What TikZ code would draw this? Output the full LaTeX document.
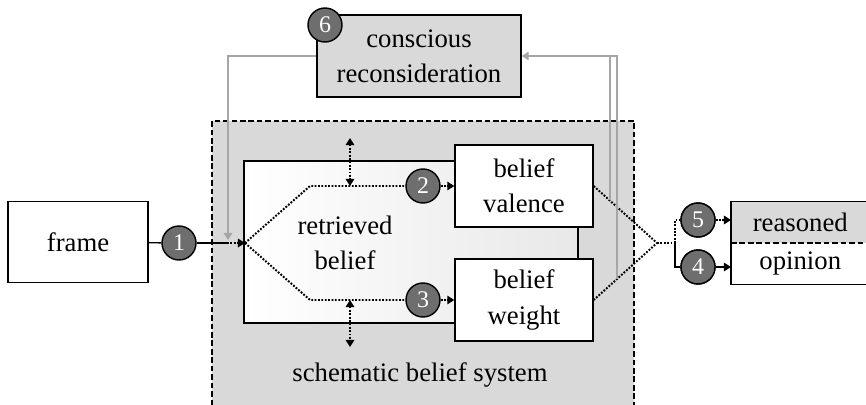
\documentclass[tikz,border=0pt]{standalone}
\usepackage{fontspec}
\setmainfont{Liberation Serif}
\usetikzlibrary{arrows.meta,positioning,calc}
\definecolor{panel}{RGB}{217,217,217}
\definecolor{badge}{RGB}{110,110,110}
\definecolor{loopgray}{RGB}{166,166,166}

\begin{document}
\begin{tikzpicture}[every node/.style={font=\fontsize{19}{25}\selectfont},
  box/.style={draw, line width=1pt, fill=white, align=center, minimum width=3.45cm, minimum height=2.05cm},
  num/.style={circle, draw, line width=1pt, fill=badge, text=white, minimum size=0.85cm, inner sep=0pt, font=\fontsize{17}{17}\selectfont},
  dotline/.style={line width=1.4pt, dash pattern=on 1.3pt off 1.1pt},
  tip/.style={-{Triangle[length=5pt,width=6pt]}},
  fback/.style={draw=loopgray, line width=1.4pt}]
\useasboundingbox (0,0) rectangle (21.65,10.1);
\clip (0,0) rectangle (21.65,10.1);

% belief system panel
\node[draw, line width=1pt, dash pattern=on 4pt off 2pt, fill=panel, minimum width=10.55cm, minimum height=7.575cm] (sbs) at (10.575,3.2875) {};
\node (sbslabel) at (10.5,0.725) {schematic belief system};

% feedback loop
\node[box, fill=panel, minimum width=5.1cm] (cr) at (10.475,8.7) {conscious\\reconsideration};
\coordinate (fbin) at (5.7,4.1);
\draw[fback, tip] (cr.west) -| (fbin);

% retrieval
\node[draw, line width=1pt, minimum width=8.35cm, minimum height=4.05cm, left color=white, right color=black!9] (pool) at (10.275,4.05) {};
\node[align=center] (rtext) at (8.625,4.025) {retrieved\\belief};
\node[box] (vb) at (13.1,5.45) {belief\\valence};
\node[box] (wb) at (13.1,2.6) {belief\\weight};

\node[box, minimum width=3.5cm, minimum height=2.025cm] (fr) at (1.95,4.05) {frame};

\coordinate (S) at (6.125,4.025);
\coordinate (j1) at (5.675,4.025);
\coordinate (ut) at (7.75,5.45);
\coordinate (lt) at (7.75,2.6);
\coordinate (up1) at (8.75,6.65);
\coordinate (dn1) at (8.75,1.425);
\coordinate (M) at (16.425,4.025);
\coordinate (B) at (16.875,4.025);

\node[num] (c1) at (4.475,4.025) {1};
\node[num] (c2) at (10.575,5.45) {2};
\node[num] (c3) at (10.575,2.6) {3};
\node[num] (c4) at (17.45,3.425) {4};
\node[num] (c5) at (17.45,4.6) {5};

\draw[line width=1pt] (fr) -- (c1);
\draw[line width=1pt] (c1) -- (j1);
\draw[dotline, tip] (j1) -- (S);
\draw[dotline] (S) -- (ut) -- (c2);
\draw[dotline] (S) -- (lt) -- (c3);
\draw[dotline, tip] (c2) -- (c2 -| vb.west);
\draw[dotline, tip] (c3) -- (c3 -| wb.west);
\draw[dotline, {Triangle[length=5pt,width=6pt]}-{Triangle[length=5pt,width=6pt]}] (up1) -- (up1 |- ut);
\draw[dotline, {Triangle[length=5pt,width=6pt]}-{Triangle[length=5pt,width=6pt]}] (up1 |- lt) -- (dn1);

% outcome
\node[fill=panel, inner sep=2pt, minimum width=3.45cm, minimum height=1.025cm, anchor=south west] (rs) at (18.275,4.025) {reasoned};
\node[fill=white, inner sep=2pt, minimum width=3.45cm, minimum height=1.025cm, anchor=north west] (op) at (18.275,4.025) {opinion};
\draw[line width=1pt] (rs.north east) -- (rs.north west) -- (op.south west) -- (op.south east);
\draw[line width=1pt, dash pattern=on 4pt off 2pt] (rs.south west) -- (rs.south east);

\draw[dotline] (vb.east) -- (M) -- (wb.east);
\draw[dotline] (M) -- (B);
\draw[dotline] (B) |- (c5);
\draw[dotline, tip] (c5) -- (c5 -| rs.west);
\draw[line width=1pt] (B) |- (c4);
\draw[line width=1pt, tip] (c4) -- (c4 -| op.west);
\node[num] at (c4) {4};
\node[num] at (c5) {5};

\coordinate (pv) at ($(vb.east)!0.25!(M)$);
\coordinate (pw) at ($(wb.east)!0.375!(M)$);
\draw[fback] (pv) -- (pv |- cr.east);
\draw[fback, tip] (pw) |- (cr.east);

\node[num] (c6) at (8.125,9.475) {6};
\end{tikzpicture}
\end{document}
